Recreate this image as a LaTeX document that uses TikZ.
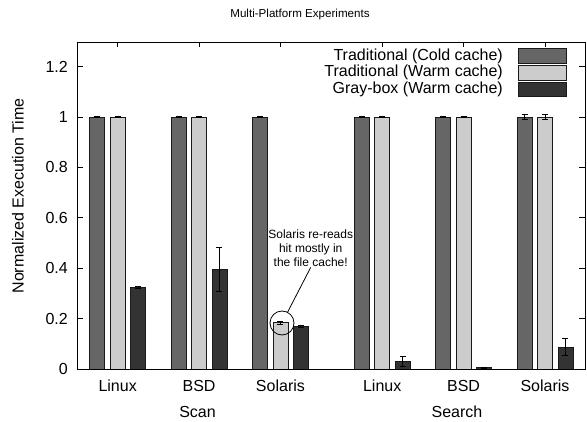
\documentclass[tikz,border=0pt]{standalone}
\usepackage{fontspec}
\setmainfont{Liberation Sans}
\definecolor{coldc}{HTML}{666666}
\definecolor{warmc}{HTML}{CCCCCC}
\definecolor{gboxc}{HTML}{333333}
\begin{document}
\begin{tikzpicture}[x=1pt,y=-1pt,
  lbl/.style={font=\fontsize{16}{19}\selectfont, inner sep=0pt},
  barbox/.style={line width=0.7pt},
  errbar/.style={draw=black, line width=0.8pt},
  frame/.style={draw=black, line width=0.9pt},
  tickmark/.style={draw=black, line width=0.8pt}]
\useasboundingbox (0,0) rectangle (587,422);
% title
\node[font=\fontsize{11.6}{14}\selectfont] (title) at (300,15) {Multi-Platform Experiments};
% y label
\node[lbl, rotate=90] (ylab) at (18,196) {Normalized Execution Time};
% y ticks
\foreach \v/\t [count=\i] in {0/0,0.2/0.2,0.4/0.4,0.6/0.6,0.8/0.8,1/1,1.2/1.2}{
  \node[lbl, anchor=east] (yt\i) at (68,{369-252*\v}) {\t};
  \draw[tickmark] (77,{369-252*\v}) -- (83,{369-252*\v});
  \draw[tickmark] (585,{369-252*\v}) -- (579,{369-252*\v});
}
% x ticks and labels
\foreach \s/\t [count=\i] in {1/Linux,5/BSD,9/Solaris,14/Linux,18/BSD,22/Solaris}{
  \pgfmathsetmacro\gx{97.3+20.35*\s}
  \draw[tickmark] (\gx,42) -- (\gx,47);
  \draw[tickmark] (\gx,369) -- (\gx,364);
  \node[lbl] (xt\i) at (\gx,386) {\t};
}
\node[lbl] (scan) at (197.5,412) {Scan};
\node[lbl] (search) at (457,412) {Search};
% bars
\foreach \s/\v/\e/\fc in {
  0/1/0.003/coldc, 1/1/0.003/warmc, 2/0.323/0.004/gboxc,
  4/1/0.003/coldc, 5/1/0.003/warmc, 6/0.396/0.087/gboxc,
  8/1/0.003/coldc, 9/0.184/0.006/warmc, 10/0.170/0.003/gboxc,
  13/1/0.003/coldc, 14/1/0.003/warmc, 15/0.031/0.019/gboxc,
  17/1/0.003/coldc, 18/1/0.003/warmc, 19/0.005/0.002/gboxc,
  21/1/0.01/coldc, 22/1/0.01/warmc, 23/0.087/0.033/gboxc}{
  \pgfmathsetmacro\bx{97.3+20.35*\s}
  \draw[barbox, fill=\fc, draw=black!90] (\bx-7.5,369) rectangle (\bx+7.5,{369-252*\v});
  \draw[errbar] (\bx,{369-252*(\v-\e)}) -- (\bx,{369-252*(\v+\e)});
  \draw[errbar] (\bx-3,{369-252*(\v-\e)}) -- (\bx+3,{369-252*(\v-\e)});
  \draw[errbar] (\bx-3,{369-252*(\v+\e)}) -- (\bx+3,{369-252*(\v+\e)});
}
% legend
\node[lbl, anchor=east] (leg1) at (503,56) {Traditional (Cold cache)};
\node[lbl, anchor=east] (leg2) at (503,72.6) {Traditional (Warm cache)};
\node[lbl, anchor=east] (leg3) at (503,89.3) {Gray-box (Warm cache)};
\draw[barbox, fill=coldc, draw=black!90] (518,48.2) rectangle (566,63);
\draw[barbox, fill=warmc, draw=black!90] (518,65.6) rectangle (566,80.2);
\draw[barbox, fill=gboxc, draw=black!90] (518,82.6) rectangle (566,96.8);
% annotation
\node[font=\fontsize{12}{13.8}\selectfont, align=center, inner sep=1pt] (note) at (310.7,248) {Solaris re-reads\\hit mostly in\\the file cache!};
\node[circle, draw=black, line width=0.8pt, minimum size=24pt, inner sep=0pt] (circ) at (282,323) {};
\draw[line width=0.8pt] (circ) -- (note.south);
% frame
\draw[frame] (77,42) rectangle (585,369);
\end{tikzpicture}
\end{document}
